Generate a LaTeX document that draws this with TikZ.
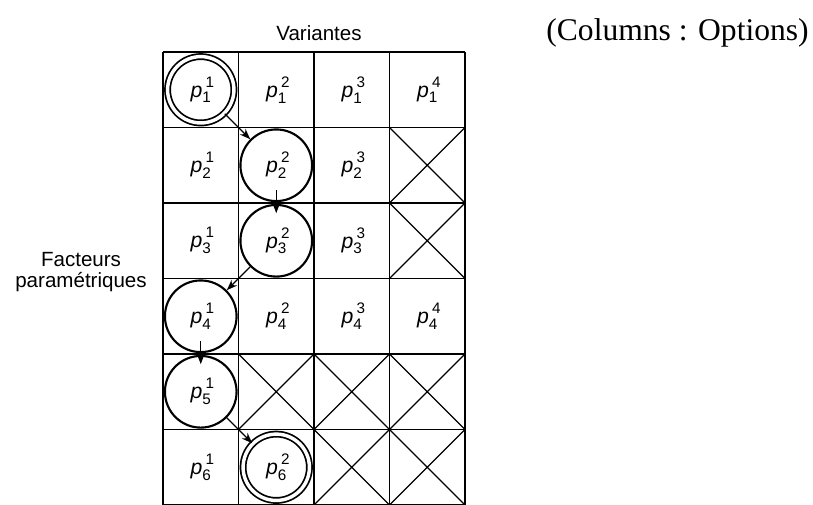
\documentclass[tikz,border=0pt]{standalone}
\usepackage{fontspec}
\setmainfont{Liberation Sans}
\newfontfamily\legendfont{Liberation Serif}
\usetikzlibrary{arrows.meta}
\tikzset{>={Stealth[length=8pt,width=6pt]}}
\colorlet{penColor}{black}
\newcommand{\digitsize}{\fontsize{11.5}{12}\selectfont}
\newcommand{\pval}[2]{\textit{p}\makebox[0pt][l]{\hspace{2.5pt}\raisebox{7.5pt}{\digitsize #1}}\raisebox{-4.5pt}{\digitsize #2}}

\begin{document}
\begin{tikzpicture}[x=2cm,y=2cm,
	cellbox/.style={penColor, line width=1.2pt},
	crossline/.style={penColor, line width=1pt},
	celltext/.style={font=\fontsize{16}{18}\selectfont, inner sep=1pt},
	ringnode/.style={celltext, circle, draw=penColor, line width=1.6pt, minimum size=54pt},
	dblring/.style={celltext, circle, draw=penColor, line width=1.3pt, double, double distance=2.6pt, minimum size=50pt},
	link/.style={->, penColor, line width=1pt}]
	\useasboundingbox (-2.159,0.689) rectangle (8.609,-5.987);
	
	\foreach \c in {0,...,4} \draw[cellbox] (\c,0) -- (\c,-6);
	\foreach \r in {0,...,6} \draw[cellbox] (0,-\r) -- (4,-\r);
	\foreach \c/\r in {4/2,4/3,2/5,3/5,4/5,3/6,4/6}
		\draw[crossline] (\c-1,1-\r) -- (\c,-\r) (\c,1-\r) -- (\c-1,-\r);% empty cells
	
	\foreach \c/\r in {2/1,3/1,4/1,1/2,3/2,1/3,3/3,2/4,3/4,4/4,1/6}
		\node[celltext] (p\c\r) at (\c-0.5,0.5-\r) {\pval{\c}{\r}};
	\foreach \c/\r in {2/2,2/3,1/4,1/5}
		\node[ringnode] (p\c\r) at (\c-0.5,0.5-\r) {\pval{\c}{\r}};
	\node[dblring] (p11) at (0.5,-0.5) {\pval{1}{1}};
	\node[dblring] (p26) at (1.5,-5.5) {\pval{2}{6}};
	
	\draw[link] (p11.south east) -- (p22.north west);
	\draw[link] ([yshift=9pt]p22.south) -- ([yshift=-7pt]p23.north);
	\draw[link] (p23.south west) -- (p14.north east);
	\draw[link] ([yshift=9pt]p14.south) -- ([yshift=-7pt]p15.north);
	\draw[link] (p15.south east) -- (p26.north west);
	
	\node[font=\fontsize{15.5}{18}\selectfont] (variantes) at (2.066,0.252) {Variantes};
	\node[font=\fontsize{15.5}{15.8}\selectfont, align=center] (facteurs) at (-1.086,-2.92) {Facteurs\\paramétriques};
	\node[font=\legendfont\fontsize{23.8}{26}\selectfont] (legend) at (6.815,0.252) {(Columns : Options)};
\end{tikzpicture}
\end{document}
